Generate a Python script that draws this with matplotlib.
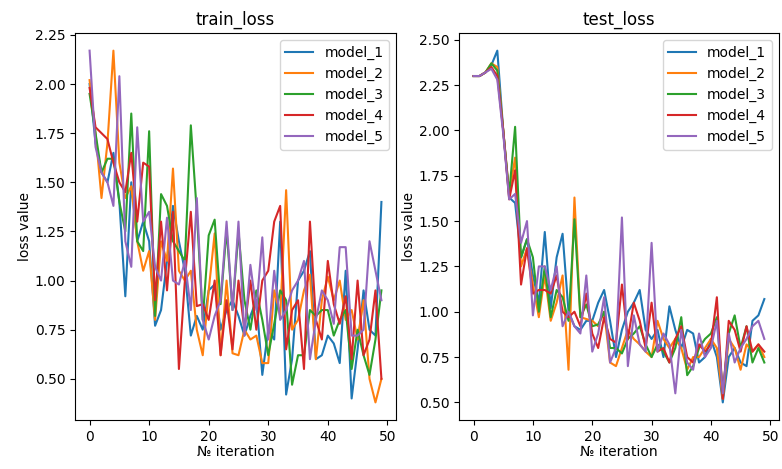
import numpy as np
import matplotlib
matplotlib.use('Agg')
import matplotlib.pyplot as plt

iters = np.arange(50)
model_names = ['model_1', 'model_2', 'model_3', 'model_4', 'model_5']

# train loss por modelo
train_m1 = [2.00, 1.70, 1.55, 1.50, 1.65, 1.40, 0.92, 1.50, 1.20, 1.30,
            1.20, 0.77, 0.85, 1.10, 1.38, 1.20, 1.05, 0.72, 0.82, 0.75,
            0.95, 0.98, 0.75, 0.85, 0.90, 0.82, 0.72, 0.82, 0.90, 0.52,
            0.75, 0.70, 1.30, 0.42, 0.60, 1.00, 1.05, 1.15, 0.60, 0.62,
            0.72, 0.68, 0.58, 1.05, 0.40, 0.65, 0.95, 0.75, 0.72, 1.40]
train_m2 = [2.02, 1.75, 1.42, 1.70, 2.17, 1.60, 1.42, 1.48, 1.20, 1.05,
            1.15, 0.80, 1.20, 1.10, 1.57, 1.05, 1.00, 1.05, 0.75, 0.62,
            0.95, 1.24, 0.62, 1.00, 0.63, 0.62, 0.75, 0.70, 0.72, 0.58,
            0.58, 0.95, 0.82, 1.46, 0.75, 0.80, 0.95, 1.03, 0.60, 0.90,
            1.02, 0.90, 1.00, 0.80, 0.85, 0.70, 0.90, 0.50, 0.38, 0.50]
train_m3 = [1.95, 1.75, 1.55, 1.62, 1.62, 1.40, 1.25, 1.85, 1.20, 1.15,
            1.76, 0.82, 1.44, 1.38, 1.20, 1.15, 1.10, 1.79, 1.35, 0.80,
            1.23, 1.31, 0.88, 1.26, 0.85, 1.25, 0.90, 0.75, 0.95, 0.80,
            0.62, 0.78, 0.95, 0.90, 0.47, 0.62, 0.62, 0.85, 0.82, 0.85,
            0.85, 0.72, 0.80, 0.85, 0.55, 0.75, 0.62, 0.52, 0.70, 0.95]
train_m4 = [1.98, 1.78, 1.75, 1.72, 1.60, 1.50, 1.45, 1.65, 1.30, 1.60,
            1.58, 0.90, 1.30, 0.95, 1.35, 0.55, 1.00, 1.35, 0.87, 0.88,
            0.80, 1.00, 0.62, 0.90, 0.65, 1.00, 0.75, 1.00, 0.75, 1.00,
            1.05, 1.30, 1.38, 0.65, 0.85, 0.90, 0.55, 1.30, 0.80, 0.70,
            1.10, 0.88, 0.78, 0.92, 0.60, 1.00, 0.62, 0.70, 0.95, 0.50]
train_m5 = [2.17, 1.68, 1.55, 1.50, 1.38, 2.04, 1.20, 1.07, 1.78, 1.30,
            1.35, 1.07, 1.00, 1.32, 1.00, 0.98, 1.10, 0.85, 1.42, 0.80,
            0.70, 0.82, 0.90, 1.30, 0.85, 1.30, 0.72, 1.08, 0.85, 1.22,
            0.70, 1.05, 0.80, 0.85, 0.95, 1.00, 1.10, 0.60, 0.80, 0.95,
            0.90, 0.78, 1.17, 1.17, 0.72, 0.72, 0.75, 1.20, 1.05, 0.90]

# test loss por modelo
test_m1 = [2.30, 2.30, 2.32, 2.36, 2.44, 2.00, 1.63, 1.60, 1.30, 1.40,
           1.20, 1.05, 1.44, 1.02, 1.30, 1.43, 1.00, 0.92, 0.90, 0.95,
           0.95, 1.05, 1.12, 0.95, 0.75, 0.90, 1.00, 1.05, 1.12, 0.90,
           0.85, 0.90, 0.75, 1.03, 0.90, 0.80, 0.90, 0.88, 0.72, 0.75,
           0.85, 0.75, 0.50, 0.75, 0.80, 0.72, 0.70, 0.95, 0.98, 1.07]
test_m2 = [2.30, 2.30, 2.32, 2.37, 2.35, 2.00, 1.65, 1.85, 1.25, 1.35,
           1.15, 0.97, 1.20, 0.95, 1.05, 1.20, 0.68, 1.63, 0.97, 0.96,
           0.95, 0.92, 1.00, 0.72, 0.70, 0.80, 0.90, 0.85, 0.82, 0.78,
           0.75, 0.95, 0.85, 0.80, 0.85, 0.80, 0.68, 0.75, 0.75, 0.80,
           0.85, 0.80, 0.52, 0.85, 0.80, 0.68, 0.82, 0.78, 0.82, 0.75]
test_m3 = [2.30, 2.30, 2.32, 2.37, 2.33, 2.00, 1.65, 2.02, 1.30, 1.40,
           1.30, 1.00, 1.25, 0.97, 1.12, 1.08, 0.95, 1.51, 0.97, 1.04,
           0.92, 0.93, 1.00, 0.80, 0.80, 0.77, 0.85, 0.88, 0.92, 0.82,
           0.75, 0.82, 0.78, 0.72, 0.80, 0.97, 0.65, 0.70, 0.80, 0.85,
           0.88, 0.97, 0.55, 0.88, 0.98, 0.80, 0.92, 0.72, 0.80, 0.72]
test_m4 = [2.30, 2.30, 2.32, 2.35, 2.30, 2.00, 1.62, 1.78, 1.15, 1.35,
           1.10, 1.12, 1.12, 1.10, 1.20, 1.00, 0.97, 1.00, 0.92, 1.10,
           0.88, 0.80, 0.97, 0.85, 0.83, 1.15, 0.85, 1.05, 0.95, 0.80,
           1.05, 0.78, 0.80, 0.72, 0.85, 0.92, 0.75, 0.72, 0.82, 0.78,
           0.82, 1.08, 0.52, 0.95, 0.90, 0.78, 0.92, 0.78, 0.82, 0.78]
test_m5 = [2.30, 2.30, 2.32, 2.34, 2.28, 1.98, 1.62, 1.65, 1.38, 1.50,
           0.98, 1.25, 1.25, 1.12, 1.25, 0.92, 1.00, 0.92, 0.88, 1.20,
           0.78, 0.88, 1.08, 0.72, 0.80, 1.52, 0.70, 0.98, 0.82, 0.78,
           1.38, 0.78, 0.88, 0.82, 0.55, 0.90, 0.72, 0.68, 0.88, 0.75,
           0.80, 0.95, 0.55, 0.88, 0.72, 0.80, 0.85, 0.92, 0.95, 0.85]

train = [train_m1, train_m2, train_m3, train_m4, train_m5]
test = [test_m1, test_m2, test_m3, test_m4, test_m5]

fig = plt.figure(figsize=(7.82, 4.69), dpi=100)
ax1 = fig.add_axes([0.0959, 0.1045, 0.4105, 0.825])
ax2 = fig.add_axes([0.587, 0.1045, 0.409, 0.825])

for ax, datos, titulo in [(ax1, train, 'train_loss'), (ax2, test, 'test_loss')]:
    for nombre, serie in zip(model_names, datos):
        ax.plot(iters, serie, label=nombre)
    ax.set_title(titulo)
    ax.set_xlabel('№ iteration', labelpad=1)
    ax.set_ylabel('loss value', labelpad=2)
    ax.legend(loc='upper right')

fig.savefig('out.png', dpi=100)
